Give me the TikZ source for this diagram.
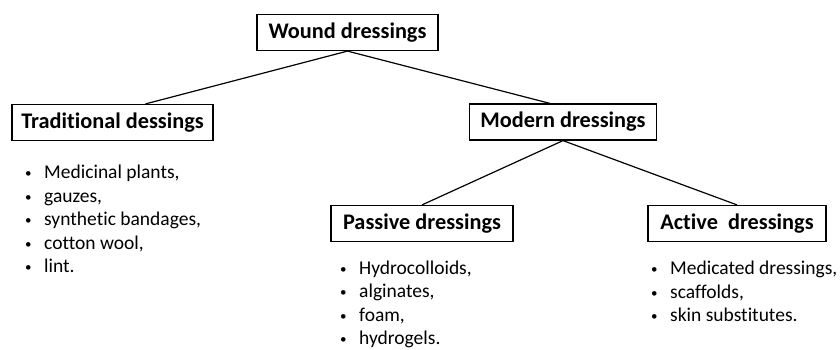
\documentclass[tikz,border=0pt]{standalone}
\usepackage{fontspec}
\setmainfont{Carlito}[Ligatures=NoCommon]
\usetikzlibrary{calc}

\tikzset{
  catbox/.style = {draw, line width=1.2pt, font=\bfseries\fontsize{22.3}{24}\selectfont,
                   minimum height=36pt, inner sep=0pt},
  itemlist/.style = {anchor=north west, align=left, inner sep=0pt,
                     font=\fontsize{19.5}{23.5}\selectfont},
  link/.style = {line width=1.2pt}
}
\newcommand{\bul}{\makebox[19pt][l]{\raisebox{1pt}{\fontsize{13}{13}\selectfont\textbullet}}}

\begin{document}
\begin{tikzpicture}[x=1pt, y=-1pt]
        \useasboundingbox (0,0) rectangle (840,349);
        % the boxes
        \node[catbox, minimum width=181pt] (wound)   at (347.5,32.5) {Wound dressings};
        \node[catbox, minimum width=201pt] (trad)    at (112.5,122.5) {Traditional dessings};
        \node[catbox, minimum width=187pt] (modern)  at (563,122) {Modern dressings};
        \node[catbox, minimum width=182pt] (passive) at (422,223.5) {Passive dressings};
        \node[catbox, minimum width=178pt] (active)  at (737,223.5) {Active~ dressings};
        % the lists
        \node[itemlist] (tradlist) at (25,165) {\bul Medicinal plants,\\ \bul gauzes,\\
            \bul synthetic bandages,\\ \bul cotton wool,\\ \bul lint.};
        \node[itemlist] (passivelist) at (340,260.5) {\bul Hydrocolloids,\\ \bul alginates,\\
            \bul foam,\\ \bul hydrogels.};
        \node[itemlist] (activelist) at (651,261) {\bul Medicated dressings,\\ \bul scaffolds,\\
            \bul skin substitutes.};
        % the links
        \draw[link] (wound.south) -- ($(trad.north)+(33,0)$);
        \draw[link] (wound.south) -- ($(modern.north)+(-13,0)$);
        \draw[link] (modern.south) -- (passive.north);
        \draw[link] (modern.south) -- (active.north);
\end{tikzpicture}
\end{document}
